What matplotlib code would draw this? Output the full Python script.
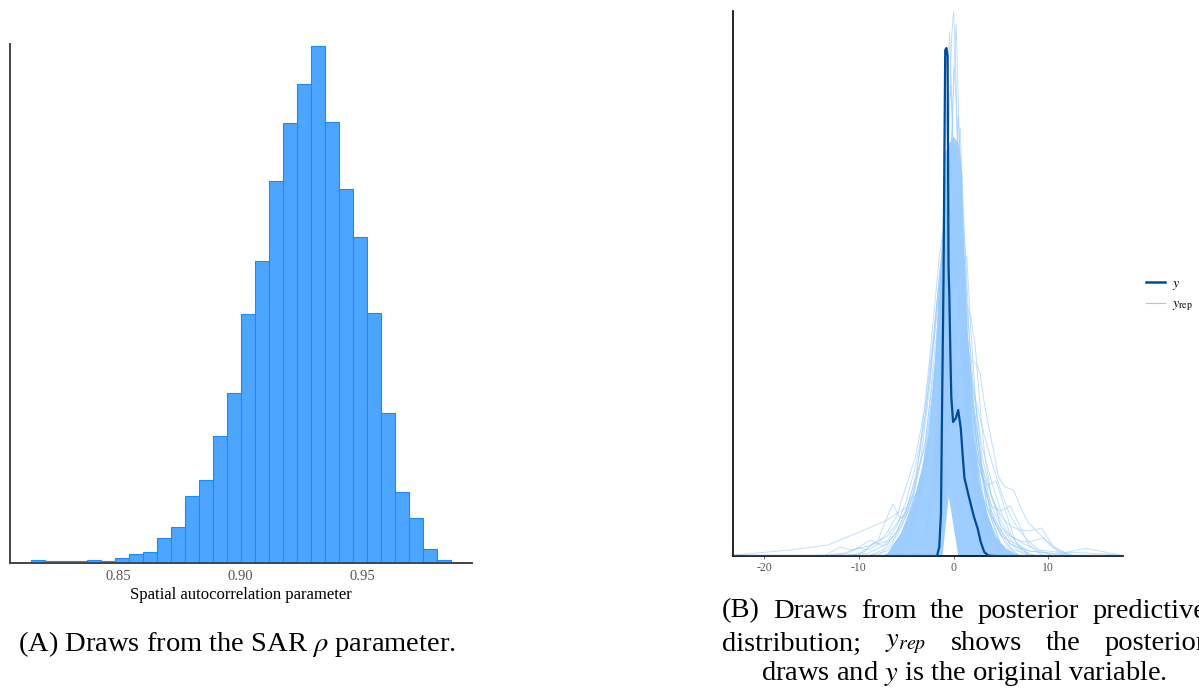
import numpy as np
import matplotlib
matplotlib.use("Agg")
import matplotlib.pyplot as plt
from matplotlib.lines import Line2D

plt.rcParams['axes.unicode_minus'] = False

# ---------------- data: panel A (SAR rho draws) ----------------
rho_bin_start = 0.8142
rho_bin_width = 0.00574
rho_counts = [3, 2, 2, 2, 3, 2, 5, 9, 11, 25, 36, 67, 83, 127, 170, 249, 302,
              382, 440, 479, 517, 441, 374, 326, 250, 150, 71, 45, 14, 3]
rho_ticks = [0.85, 0.90, 0.95]
rho_tick_labels = ["0.85", "0.90", "0.95"]
rho_xlabel = "Spatial autocorrelation parameter"

# ---------------- data: panel B (posterior predictive densities) ----------------
ppc_ticks = [-20, -10, 0, 10]
ppc_tick_labels = ["-20", "-10", "0", "10"]

y_x = [-23.3, -2.5, -1.75, -1.51, -1.33, -1.22, -1.06, -0.97, -0.88, -0.75, -0.63,
       -0.53, -0.45, -0.35, -0.24, -0.05, 0.25, 0.49, 0.76, 0.97, 1.15, 1.6, 2.13,
       2.56, 2.87, 3.24, 3.66, 4.5, 17.9]
y_dens = [0, 0, 0, 0.009, 0.043, 0.143, 0.276, 0.400, 0.506, 0.508, 0.500, 0.289,
          0.262, 0.209, 0.159, 0.134, 0.138, 0.146, 0.128, 0.100, 0.078, 0.060, 0.040,
          0.027, 0.014, 0.004, 0.0005, 0, 0]

# dense mass of overlapping replicate densities (outline)
yrep_core_x = [-7.74, -7.03, -5.63, -4.26, -3.34, -2.67, -2.28, -2.04, -1.83, -1.69,
               -1.40, -1.22, -1.14, -0.98, -0.67, -0.56, -0.35, -0.03, 0.29, 0.45,
               0.61, 0.87, 0.97, 1.24, 1.45, 1.76, 2.08, 2.61, 3.53, 4.40, 5.46, 7.04]
yrep_core_upper = [0, .003, .023, .056, .089, .123, .156, .189, .223, .256,
                   .289, .320, .350, .400, .410, .412, .415, .420, .415, .413,
                   .405, .380, .330, .280, .209, .143, .109, .076, .043, .020, .008, 0]
yrep_core_lower = [0, 0, 0, 0, 0, 0, 0, 0, 0, 0,
                   0, 0, .007, .022, .050, .060, .048, .029, .010, 0,
                   0, 0, 0, 0, 0, 0, 0, 0, 0, 0, 0, 0]

# individual replicate densities that stand out from the mass
yrep_draws_x = [
    [-2.0, -1.0, -0.5, -0.2, 0.0, 0.2, 0.5, 1.0, 1.5, 2.5, 4.0],
    [-2.2, -1.2, -0.7, -0.42, -0.1, 0.3, 0.8, 1.5, 3.0],
    [-1.5, -0.5, 0.0, 0.28, 0.6, 1.0, 1.6, 2.5, 4.0],
    [-1.8, -0.6, 0.2, 0.7, 1.1, 1.6, 2.5, 4.0],
    [-1.0, 0.0, 0.8, 1.4, 1.8, 2.5, 3.5, 5.0],
    [-1.6, -0.9, -0.6, -0.3, 0.0, 0.4, 0.9, 1.6, 2.5, 3.5],
    [-1.4, -0.7, -0.2, 0.1, 0.4, 0.8, 1.3, 2.0, 3.0],
    [-1.2, -0.4, 0.1, 0.5, 0.9, 1.3, 2.0, 3.0, 4.0],
    [-2.0, -1.2, -0.6, -0.1, 0.4, 1.0, 1.7, 2.7, 4.0],
    [-1.0, -0.2, 0.4, 0.9, 1.3, 1.8, 2.6, 3.6],
    [-1.0, 0.0, 1.0, 1.8, 2.3, 2.8, 3.3, 4.0, 5.0, 6.5, 8.0],
    [-1.0, 0.5, 1.5, 2.5, 2.8, 3.3, 4.0, 4.75, 5.46, 6.34, 7.22, 7.92, 8.98, 10.4, 11.1, 13.0],
    [-1.0, 0.5, 2.0, 4.0, 6.0, 8.0, 10.0, 11.45, 13.9, 16.7, 18.0],
    [0, 1, 2, 3, 4, 5, 6, 7, 8, 9.3, 10.5, 12],
    [0, 1, 2, 3, 4, 5, 6, 7, 8, 9],
    [-0.5, 1, 2, 3, 4, 5, 6, 7.5, 9, 11, 14, 16, 17.9],
    [-23.26, -17.2, -13.3, -10.2, -7.0, -4.9, -3.5, -2.0, -1.0, 0, 1, 2, 3, 5, 8, 12],
    [-16, -13.5, -12.0, -10.7, -9.0, -7.0, -5.0, -3.0, -1.5, -0.5, 0.5, 1.5, 3, 5],
    [-10, -8, -7.2, -6.4, -5.7, -5.0, -4.0, -3.0, -2.0, -1.0, 0, 1, 2, 3, 4],
    [-12, -9, -7, -6, -5, -4, -3.2, -2.5, -1.8, -1.0, 0, 1, 2, 4],
    [-9, -7, -6, -5, -4.2, -3.5, -2.5, -1.5, -0.5, 0.5, 1.5, 3, 5],
    [-11, -9.5, -8.3, -7.5, -6.5, -5.5, -4.5, -3.5, -2.5, -1.5, -0.5, 0.5, 2, 4],
    [-14, -11.5, -10, -9, -8, -7, -6, -5, -4, -3, -2, -1, 0, 1.5, 3],
    [-9, -7.5, -6, -5, -4, -3, -2, -1, 0, 1, 2, 3, 4, 5.5, 7],
    [-7, -5.5, -4.5, -3.5, -2.5, -1.5, -0.5, 0.5, 1.5, 2.5, 3.5, 4.5, 6, 8],
    [-4, -3, -2, -1, 0, 1, 2, 3, 4, 5, 6, 7, 8.5],
    [-6, -4.5, -3.5, -2.8, -2, -1.2, -0.3, 0.6, 1.5, 2.5, 3.5, 5, 7],
    [-3, -1.5, -0.5, 0.5, 1.5, 2.5, 3.5, 4.5, 5.5, 6.5, 8],
    [-8, -6.5, -5.5, -4.5, -3.8, -3, -2, -1, 0, 1, 2, 3.5, 5],
    [-2, -1, 0, 1, 2, 3, 4, 5, 6, 7, 8, 9, 10.5],
    [-13, -11, -9.5, -8.8, -8, -7, -6, -5, -4, -3, -2, -1, 0, 1, 2.5, 4],
    [-1, 0, 1, 2, 3, 4, 5, 6, 7, 8, 9.5, 11, 12.5],
    [-2, -1, 0, 1, 2, 3, 4, 5, 6, 7, 8, 9.5],
]
yrep_draws_d = [
    [.060, .250, .420, .520, .545, .500, .380, .250, .160, .060, .010],
    [.050, .280, .450, .524, .430, .300, .200, .100, .020],
    [.100, .300, .480, .532, .420, .300, .180, .080, .015],
    [.080, .250, .380, .428, .330, .200, .090, .020],
    [.060, .200, .280, .300, .230, .130, .050, .010],
    [.120, .320, .430, .470, .400, .300, .200, .110, .050, .015],
    [.120, .280, .420, .490, .420, .300, .180, .090, .030],
    [.100, .260, .380, .440, .360, .240, .120, .050, .015],
    [.080, .250, .360, .400, .350, .250, .150, .060, .015],
    [.100, .250, .330, .350, .300, .190, .090, .030],
    [.100, .250, .260, .240, .209, .150, .100, .060, .030, .010, .002],
    [.050, .180, .200, .190, .183, .150, .116, .079, .069, .066, .046, .033, .023, .009, .004, 0],
    [.080, .250, .120, .040, .012, .005, .003, .0027, .0077, .0027, 0],
    [.300, .250, .150, .090, .060, .040, .030, .026, .025, .028, .010, .002],
    [.350, .200, .120, .080, .045, .025, .012, .005, .002, 0],
    [.250, .300, .180, .100, .060, .035, .020, .012, .006, .004, .003, .002, 0],
    [.001, .006, .011, .023, .036, .049, .069, .180, .330, .380, .250, .120, .060, .020, .005, .001],
    [0, .001, .009, .006, .010, .020, .045, .110, .250, .400, .300, .150, .050, .010],
    [.002, .015, .035, .052, .038, .040, .060, .100, .180, .300, .350, .220, .100, .040, .010],
    [0, .003, .012, .025, .045, .080, .125, .180, .250, .320, .330, .200, .080, .010],
    [0, .005, .015, .030, .060, .110, .200, .300, .360, .300, .150, .040, .005],
    [0, .004, .014, .010, .018, .030, .055, .095, .170, .280, .350, .260, .090, .010],
    [0, .003, .008, .006, .012, .024, .040, .070, .100, .150, .230, .330, .360, .200, .040],
    [0, .006, .020, .040, .070, .115, .190, .290, .330, .270, .160, .085, .040, .012, 0],
    [0, .010, .030, .065, .130, .240, .320, .290, .190, .110, .060, .030, .008, 0],
    [0, .015, .070, .200, .300, .260, .170, .110, .075, .045, .022, .008, 0],
    [0, .020, .060, .105, .175, .270, .340, .300, .200, .110, .050, .012, 0],
    [.010, .150, .300, .280, .160, .090, .070, .075, .045, .015, 0],
    [0, .012, .035, .060, .058, .085, .170, .300, .350, .240, .110, .030, 0],
    [.050, .200, .280, .240, .170, .130, .095, .065, .040, .025, .014, .006, 0],
    [0, .003, .012, .016, .012, .015, .030, .055, .090, .140, .220, .310, .340, .230, .080, .010],
    [.150, .320, .270, .160, .090, .050, .030, .020, .015, .014, .018, .006, 0],
    [.080, .240, .330, .250, .140, .080, .050, .045, .050, .030, .010, 0],
]

legend_labels = [r"$y$", r"$y_{\mathrm{rep}}$"]
caption_a = r"(A) Draws from the SAR $\rho$ parameter."
caption_b1_words = ["(B)", "Draws", "from", "the", "posterior", "predictive"]
caption_b2_words = ["distribution;", r"$y_{rep}$", "shows", "the", "posterior"]
caption_b3 = r"draws and $y$ is the original variable."

# ---------------- styling ----------------
W, H = 1199, 688
fig = plt.figure(figsize=(W / 100, H / 100), dpi=100)
fig.patch.set_facecolor("white")

def fx(px):
    return px / W

def fy(py):
    return 1 - py / H

serif = ["Liberation Serif", "DejaVu Serif"]
cap_font = ["Liberation Serif", "DejaVu Serif"]
cap_size = 20.5

# Panel A
axA = fig.add_axes([fx(10), fy(563), fx(472) - fx(10), fy(44) - fy(563)])
lefts = rho_bin_start + rho_bin_width * np.arange(len(rho_counts))
axA.bar(lefts, rho_counts, width=rho_bin_width, align="edge",
        color="#4ca5ff", edgecolor="#198bff", linewidth=0.8)
axA.set_xlim(0.8057, 0.9951)
axA.set_ylim(0, max(rho_counts) * 1.004)
axA.set_yticks([])
axA.set_xticks(rho_ticks)
axA.set_xticklabels(rho_tick_labels, family=serif, fontsize=10.5, color="#555555")
axA.tick_params(axis="x", length=0, pad=5)
axA.set_xlabel(rho_xlabel, family=serif, fontsize=12, color="black", labelpad=3)
for s in ["top", "right"]:
    axA.spines[s].set_visible(False)
for s in ["left", "bottom"]:
    axA.spines[s].set_color("#444444")
    axA.spines[s].set_linewidth(1.4)

# Panel B
axB = fig.add_axes([fx(733), fy(556), fx(1123) - fx(733), fy(11) - fy(556)])
axB.fill_between(yrep_core_x, yrep_core_lower, yrep_core_upper,
                 color="#99cbff", linewidth=0, alpha=0.95, zorder=1)
for xs, ds in zip(yrep_draws_x, yrep_draws_d):
    axB.plot(xs, ds, color="#99cbff", alpha=0.7, linewidth=0.6, zorder=2,
             solid_joinstyle="round")
axB.plot(y_x, y_dens, color="#004c99", linewidth=1.6, zorder=3,
         solid_joinstyle="round")
axB.set_xlim(-23.3, 17.9)
axB.set_ylim(0, 0.545)
axB.set_yticks([])
axB.set_xticks(ppc_ticks)
axB.set_xticklabels(ppc_tick_labels, family=serif, fontsize=8.5, color="#555555")
axB.tick_params(axis="x", length=2.5, width=0.6, color="#555555", pad=2)
for s in ["top", "right"]:
    axB.spines[s].set_visible(False)
for s in ["left", "bottom"]:
    axB.spines[s].set_color("black")
    axB.spines[s].set_linewidth(1.2)

handles = [Line2D([0], [0], color="#004c99", linewidth=1.8),
           Line2D([0], [0], color="#99cbff", linewidth=0.8)]
leg = fig.legend(handles, legend_labels, loc="center left",
                 bbox_to_anchor=(fx(1133), fy(295)), frameon=False,
                 handlelength=1.4, handletextpad=0.5, labelspacing=0.4,
                 prop={"family": serif, "size": 10})
for t in leg.get_texts():
    t.set_math_fontfamily("stix")

# Captions
fig.text(fx(237), fy(644), caption_a, ha="center", va="center",
         family=cap_font, fontsize=cap_size, math_fontfamily="stix")

renderer = fig.canvas.get_renderer()

def justified_line(words, x0, x1, ypx):
    texts = [fig.text(0, fy(ypx), w, ha="left", va="center", family=cap_font,
                      fontsize=cap_size, math_fontfamily="stix") for w in words]
    widths = [t.get_window_extent(renderer=renderer).width for t in texts]
    gap = (x1 - x0 - sum(widths)) / (len(words) - 1)
    x = x0
    for t, w in zip(texts, widths):
        t.set_x(fx(x))
        x += w + gap

justified_line(caption_b1_words, 722, 1206, 611)
justified_line(caption_b2_words, 722, 1206, 644)
fig.text(fx(964), fy(673), caption_b3, ha="center", va="center",
         family=cap_font, fontsize=cap_size, math_fontfamily="stix")

fig.savefig("out.png", dpi=100)
